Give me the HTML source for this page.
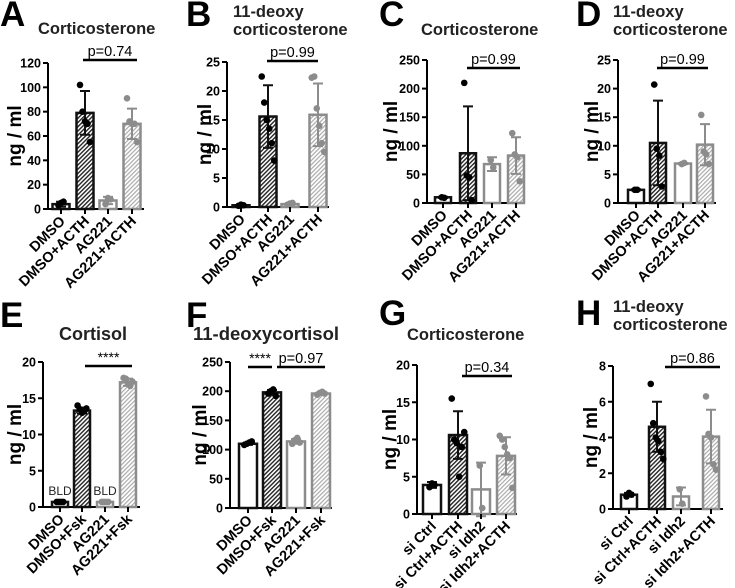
<!DOCTYPE html>
<html><head><meta charset="utf-8"><style>
html,body{margin:0;padding:0;background:#fff;}
svg{display:block;font-family:"Liberation Sans",Arial,sans-serif;}
</style></head><body>
<svg id="fig" width="735" height="588" viewBox="0 0 735 588">
<defs>
<pattern id="hatchK" patternUnits="userSpaceOnUse" width="3" height="3" patternTransform="rotate(45)"><rect width="3" height="3" fill="#fff"/><rect width="1.4" height="3" fill="#222"/></pattern>
<pattern id="hatchG" patternUnits="userSpaceOnUse" width="3" height="3" patternTransform="rotate(45)"><rect width="3" height="3" fill="#fff"/><rect width="1.2" height="3" fill="#aaa"/></pattern>
</defs>
</svg>
<script>
const aCats=["DMSO","DMSO+ACTH","AG221","AG221+ACTH"];
const aMeans=[4,79,7,70];
const aSd=[2,18,3,12.5];
const aPts=[[3,5,6],[102,80,72,70,55],[4,9,8],[91,72,70,70,55]];
const aTicks=[0,20,40,60,80,100,120];

const bMeans=[0.3,15.6,0.5,15.9];
const bSd=[0.15,5.4,0.15,5.4];
const bPts=[[0.2,0.4,0.3],[22.5,18,15,13.5,11,8],[0.4,0.6,0.7],[22.3,22.5,17,14,11,9.5]];
const bTicks=[0,5,10,15,20,25];

const cMeans=[10,87,68,83];
const cSd=[1,82,12,32];
const cPts=[[10,9],[210,48,45,5],[75,62],[122,85,80,38]];
const cTicks=[0,50,100,150,200,250];

const dMeans=[2.3,10.5,6.9,10.2];
const dSd=[0.1,7.4,0.1,3.6];
const dPts=[[2.3,2.3],[20.7,9.5,8.3,2.9],[6.8,7],[15.4,9,8.5,6.8]];
const dTicks=[0,5,10,15,20,25];

const eCats=["DMSO","DMSO+Fsk","AG221","AG221+Fsk"];
const eMeans=[0.7,13.3,0.7,17.2];
const eSd=[0,0.4,0,0.5];
const ePts=[[0.7,0.7,0.7,0.7],[14,13.5,13,13.2,13.6],[0.7,0.7,0.7,0.7],[17.8,17.7,17,16.7,17.3]];
const eTicks=[0,5,10,15,20];

const fMeans=[110,198,114,196];
const fSd=[2,4,4,2];
const fPts=[[108,110,112,114],[196,200,203,192],[110,116,120,112],[194,197,199,196]];
const fTicks=[0,50,100,150,200,250];

const gCats=["si Ctrl","si Ctrl+ACTH","si Idh2","si Idh2+ACTH"];
const gMeans=[3.9,10.6,3.3,7.8];
const gSd=[0.4,3.2,3.6,2.5];
const gPts=[[3.6,4.1,3.9],[15.5,10,9.5,5,9,11],[6.5,0.8],[10.5,10,9,8,7.5,3.5]];
const gTicks=[0,5,10,15,20];

const hMeans=[0.8,4.6,0.7,4.05];
const hSd=[0.1,1.4,0.5,1.5];
const hPts=[[0.7,0.9,0.8],[7,4.8,4,3.8,3.2,2.8],[1.1,0.3],[6.3,4.2,4,2.5,2.2]];
const hTicks=[0,2,4,6,8];

const NS="http://www.w3.org/2000/svg";
const svg=document.getElementById('fig');
function mk(tag,attrs,parent,text){const e=document.createElementNS(NS,tag);for(const k in attrs)e.setAttribute(k,attrs[k]);if(text!==undefined)e.textContent=text;(parent||svg).appendChild(e);return e;}

function panel(cfg){
  const g=mk('g',{});
  
  
  const ymax=cfg.ticks[cfg.ticks.length-1];
  const Y=v=>cfg.y0-(v/ymax)*(cfg.y0-cfg.yTop);
  const L=mk('text',{x:cfg.lx,y:cfg.ly,'font-size':35,'font-weight':'bold',fill:'#000'},g,cfg.letter);
  
  
  cfg.title.forEach((t,i)=>{
    const T=mk('text',{x:cfg.tx,y:cfg.ty[i],'font-size':cfg.tfs||16.5,'font-weight':'bold',fill:'#222'},g,t);
    
    
  });
  const ax=mk('line',{x1:cfg.ax,x2:cfg.ax,y1:cfg.yTop,y2:cfg.y0+1,stroke:'#000','stroke-width':2},g);
  
  
  cfg.ticks.forEach(t=>{
    mk('line',{x1:cfg.ax-5,x2:cfg.ax,y1:Y(t),y2:Y(t),stroke:'#000','stroke-width':2},g);
    const tl=mk('text',{x:cfg.ax-7,y:Y(t)+4.5,'font-size':12.5,'font-weight':'bold','text-anchor':'end',fill:'#000'},g,t);
    
    
  });
  const yl=mk('text',{x:0,y:0,'font-size':19,'font-weight':'bold','text-anchor':'middle',fill:'#000',transform:`translate(${cfg.ylx},${(cfg.y0+cfg.yTop)/2}) rotate(-90)`},g,'ng / ml');
  
  
  const xa=mk('line',{x1:cfg.ax-1,x2:cfg.axEnd,y1:cfg.y0,y2:cfg.y0,stroke:'#000','stroke-width':2},g);
  
  
  cfg.means.forEach((m,i)=>{
    const cx=cfg.cx[i], hw=cfg.bw/2;
    const col=i<2?'#111':'#8c8c8c';
    const fill=i%2===1?(i<2?'url(#hatchK)':'url(#hatchG)'):'#fff';
    const top=Y(m);
    const b=mk('rect',{x:cx-hw,y:top,width:cfg.bw,height:Math.max(cfg.y0-top,0.5),fill:fill,stroke:col,'stroke-width':2.5},g);
    
    
    const sd=cfg.sd[i];
    if(sd>0){
      const e=mk('path',{d:`M${cx},${Y(m-sd)}V${Y(m+sd)}M${cx-5},${Y(m+sd)}H${cx+5}M${cx-5},${Y(m-sd)}H${cx+5}`,stroke:col,'stroke-width':2,fill:'none'},g);
      
      
    }
    cfg.pts[i].forEach((p,j)=>{
      const n=cfg.pts[i].length;
      const dx=n>1?(j-(n-1)/2)*(cfg.spread||2.5):0;
      const d=mk('circle',{cx:cx+dx,cy:Y(p),r:3.3,fill:i<2?'#000':'#8c8c8c'},g);
      
      
    });
    mk('line',{x1:cx,x2:cx,y1:cfg.y0,y2:cfg.y0+5,stroke:'#000','stroke-width':2},g);
    const xl=mk('text',{x:0,y:0,'font-size':14.5,'font-weight':'bold','text-anchor':'end',fill:'#000',transform:`translate(${cx+5},${cfg.y0+13}) rotate(-45)`},g,cfg.cats[i]);
    
    
  });
  (cfg.sig||[]).forEach(s=>{
    const l=mk('line',{x1:s.x1,x2:s.x2,y1:s.y,y2:s.y,stroke:'#000','stroke-width':2.5},g);
    
    
    const t=mk('text',{x:(s.x1+s.x2)/2,y:s.y-4,'font-size':s.t==='****'?14:14.5,'text-anchor':'middle',fill:'#000'},g,s.t);
    
    
  });
  (cfg.bld||[]).forEach(i=>{
    const t=mk('text',{x:cfg.cx[i],y:cfg.y0-12,'font-size':12,'text-anchor':'middle',fill:'#222'},g,'BLD');
    
    
  });
}

panel({letter:'A',lx:0,ly:26,title:['Corticosterone'],tx:38,ty:[34],ticks:aTicks,yTop:63,y0:209,ax:48,axEnd:144,ylx:21,
  cats:aCats,cx:[61,85,108,132],bw:17,means:aMeans,sd:aSd,pts:aPts,sig:[{x1:83,x2:137,y:60,t:'p=0.74'}]});
panel({letter:'B',lx:186,ly:26,title:['11-deoxy','corticosterone'],tx:233,ty:[17,35],ticks:bTicks,yTop:62,y0:207,ax:227,axEnd:329,ylx:211,
  cats:aCats,cx:[241,268,290,318],bw:17,means:bMeans,sd:bSd,pts:bPts,sig:[{x1:267,x2:318,y:61,t:'p=0.99'}]});
panel({letter:'C',lx:379,ly:26,title:['Corticosterone'],tx:421,ty:[35],ticks:cTicks,yTop:60,y0:203,ax:427,axEnd:525,ylx:397,
  cats:aCats,cx:[443,468,492,516],bw:16,means:cMeans,sd:cSd,pts:cPts,sig:[{x1:467,x2:520,y:68,t:'p=0.99'}]});
panel({letter:'D',lx:576,ly:26,title:['11-deoxy','corticosterone'],tx:613,ty:[17,35],ticks:dTicks,yTop:60,y0:203,ax:618,axEnd:716,ylx:598,
  cats:aCats,cx:[636,658,683,705],bw:16,means:dMeans,sd:dSd,pts:dPts,sig:[{x1:657,x2:708,y:68,t:'p=0.99'}]});
panel({letter:'E',lx:0,ly:327,title:['Cortisol'],tx:59,ty:[340],tfs:18,ticks:eTicks,yTop:362,y0:507,ax:43,axEnd:140,ylx:21,
  cats:eCats,cx:[60,82,105,128],bw:16,means:eMeans,sd:eSd,pts:ePts,spread:2.2,bld:[0,2],sig:[{x1:85,x2:132,y:366,t:'****'}]});
panel({letter:'F',lx:186,ly:327,title:['11-deoxycortisol'],tx:193,ty:[340],tfs:18.5,ticks:fTicks,yTop:362,y0:508,ax:230,axEnd:332,ylx:206,
  cats:eCats,cx:[248,272,296,321],bw:18,means:fMeans,sd:fSd,pts:fPts,sig:[{x1:248,x2:272,y:367,t:'****'},{x1:277,x2:325,y:367,t:'p=0.97'}]});
panel({letter:'G',lx:379,ly:325,title:['Corticosterone'],tx:407,ty:[340],ticks:gTicks,yTop:365,y0:514,ax:417,axEnd:517,ylx:396,
  cats:gCats,cx:[432,458,481,506],bw:18,means:gMeans,sd:gSd,pts:gPts,sig:[{x1:462,x2:512,y:376,t:'p=0.34'}]});
panel({letter:'H',lx:576,ly:325,title:['11-deoxy','corticosterone'],tx:613,ty:[312,330],ticks:hTicks,yTop:366,y0:509,ax:613,axEnd:723,ylx:597,
  cats:gCats,cx:[629,657,681,711],bw:16,means:hMeans,sd:hSd,pts:hPts,sig:[{x1:665,x2:720,y:367,t:'p=0.86'}]});
</script>
</body></html>
